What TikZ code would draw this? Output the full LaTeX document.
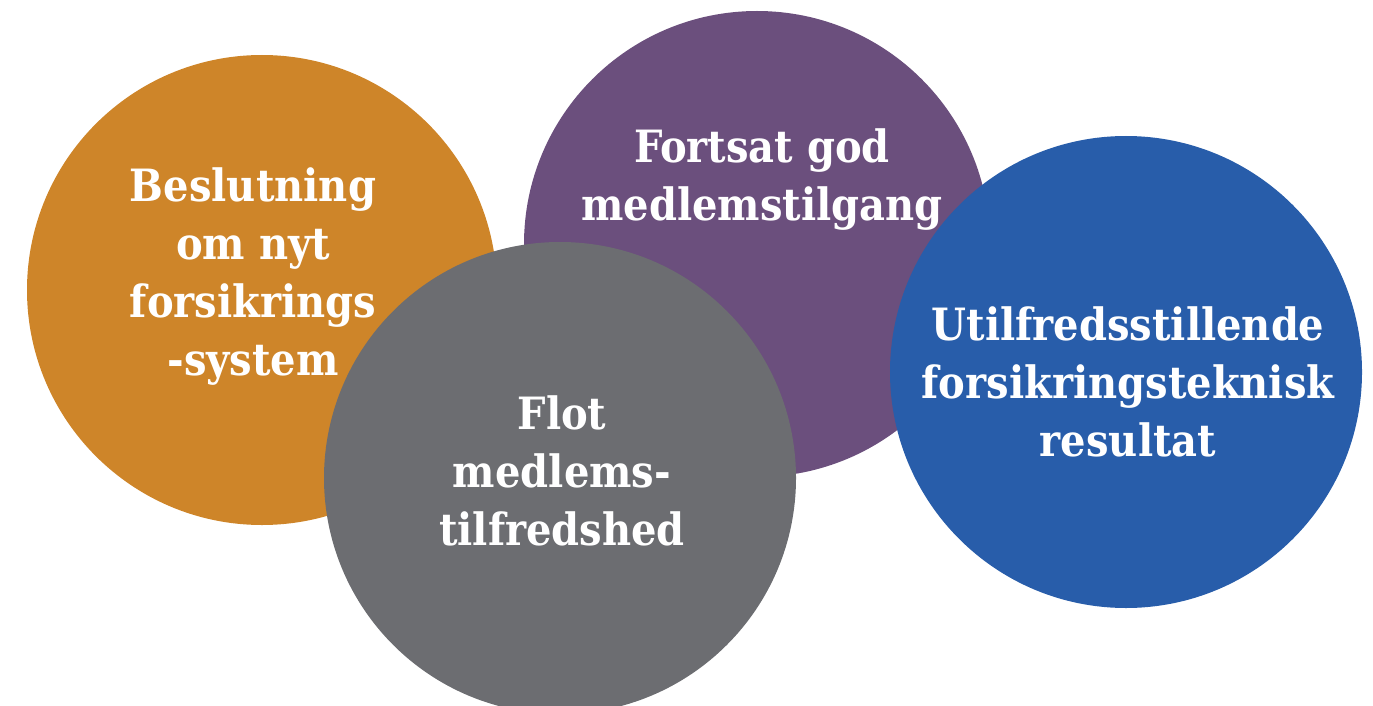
\documentclass[tikz,border=0pt]{standalone}
\usepackage{fontspec}
\newfontfamily\bubblefont{DejaVu Serif Condensed}
\definecolor{orangebub}{HTML}{CE8529}
\definecolor{purplebub}{HTML}{6B4F7D}
\definecolor{graybub}{HTML}{6C6D71}
\definecolor{bluebub}{HTML}{285DAA}
\tikzset{
  bubble/.style = {shape=circle, inner sep=0pt, draw=none,
                   minimum size=470pt},
  caption/.style = {align=center, text=white, inner sep=0pt,
                    font=\bubblefont\bfseries\fontsize{44.5}{58}\selectfont}
}
\begin{document}
\begin{tikzpicture}[x=1pt, y=-1pt]
  \useasboundingbox (0,0) rectangle (1373,706);
  \clip (0,0) rectangle (1373,706);

  % circles
  \node[bubble, fill=orangebub] (besl) at (262,290) {};
  \node[bubble, fill=purplebub, minimum size=466pt] (fort) at (757,244) {};
  \node[bubble, fill=graybub, minimum size=472pt] (flot) at (560,478) {};
  \node[bubble, fill=bluebub, minimum size=472pt] (util) at (1126,372) {};

  % texts
  \node[caption] (beslT) at (253,277) {Beslutning\\om nyt\\forsikrings\\-system};
  \node[caption] (fortT) at (762,180) {Fortsat god\\medlemstilgang};
  \node[caption] (flotT) at (562,471) {Flot\\medlems-\\tilfredshed};
  \node[caption] (utilT) at (1128,382) {Utilfredsstillende\\forsikringsteknisk\\resultat};
\end{tikzpicture}
\end{document}
